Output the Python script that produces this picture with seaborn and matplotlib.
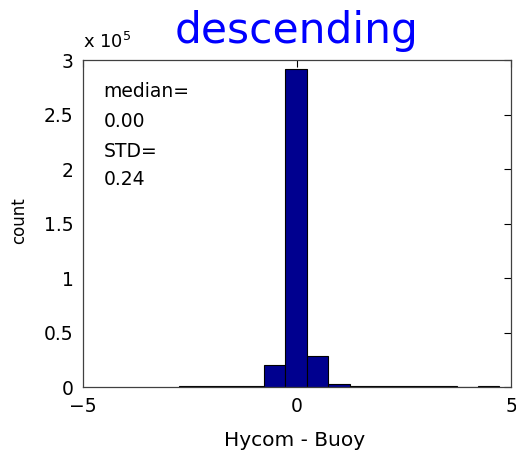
import numpy as np
import matplotlib
matplotlib.use('Agg')
import matplotlib.pyplot as plt
import seaborn as sns
from matplotlib.ticker import FuncFormatter

# histogram of Hycom - Buoy differences (15 bins)
bin_edges = [-2.76, -2.26, -1.76, -1.26, -0.77, -0.27, 0.23, 0.73, 1.23,
             1.73, 2.23, 2.73, 3.23, 3.73, 4.22, 4.72]
bin_counts = [900, 900, 1000, 1200, 20000, 292000, 29000, 2600, 1000,
              900, 900, 900, 900, 0, 900]
bin_centers = [(a + b) / 2 for a, b in zip(bin_edges[:-1], bin_edges[1:])]

stats_lines = ['median=', '0.00', 'STD=', '0.24']
x_ticks = [-5, 0, 5]
y_ticks = [0, 50000, 100000, 150000, 200000, 250000, 300000]

sns.set_style('white')
plt.rcParams['font.family'] = ['DejaVu Sans']
plt.rcParams['text.color'] = 'black'
plt.rcParams['axes.labelcolor'] = 'black'

fig = plt.figure(figsize=(5.16, 4.53), dpi=100)
ax = fig.add_axes([0.16, 0.145, 0.8304, 0.7225])

sns.histplot(x=bin_centers, weights=bin_counts, bins=bin_edges, ax=ax,
             color='#00008F', edgecolor='black', linewidth=0.8, alpha=1)

ax.set_xlim(-5, 5)
ax.set_ylim(0, 300000)
ax.set_xticks(x_ticks)
ax.set_yticks(y_ticks)
ax.yaxis.set_major_formatter(FuncFormatter(lambda v, p: '%g' % (v / 1e5)))
ax.tick_params(direction='in', length=5, width=0.8, top=True, right=True,
               labelsize=13.5, colors='black')
ax.tick_params(axis='x', pad=7)
ax.tick_params(axis='y', pad=6.5)
for s in ax.spines.values():
    s.set_visible(True)
    s.set_color('#404040')
    s.set_linewidth(0.9)

ax.set_xlabel('Hycom - Buoy', fontsize=14.5)
ax.xaxis.set_label_coords(0.495, -0.134)
ax.set_ylabel('count', fontsize=12)
ax.yaxis.set_label_coords(-0.127, 0.51)
ax.set_title('descending', fontsize=30.5, color='#0000FF', y=1.052, pad=0)

# MATLAB style exponent label
ax.text(0.0, 1.037, r'x 10$^5$', transform=ax.transAxes, fontsize=13,
        ha='left', va='baseline')

ys = [0.888, 0.796, 0.704, 0.617]
for line, y in zip(stats_lines, ys):
    ax.text(0.049, y, line, transform=ax.transAxes, fontsize=13.5,
            ha='left', va='baseline')

fig.savefig('out.png', dpi=100)
